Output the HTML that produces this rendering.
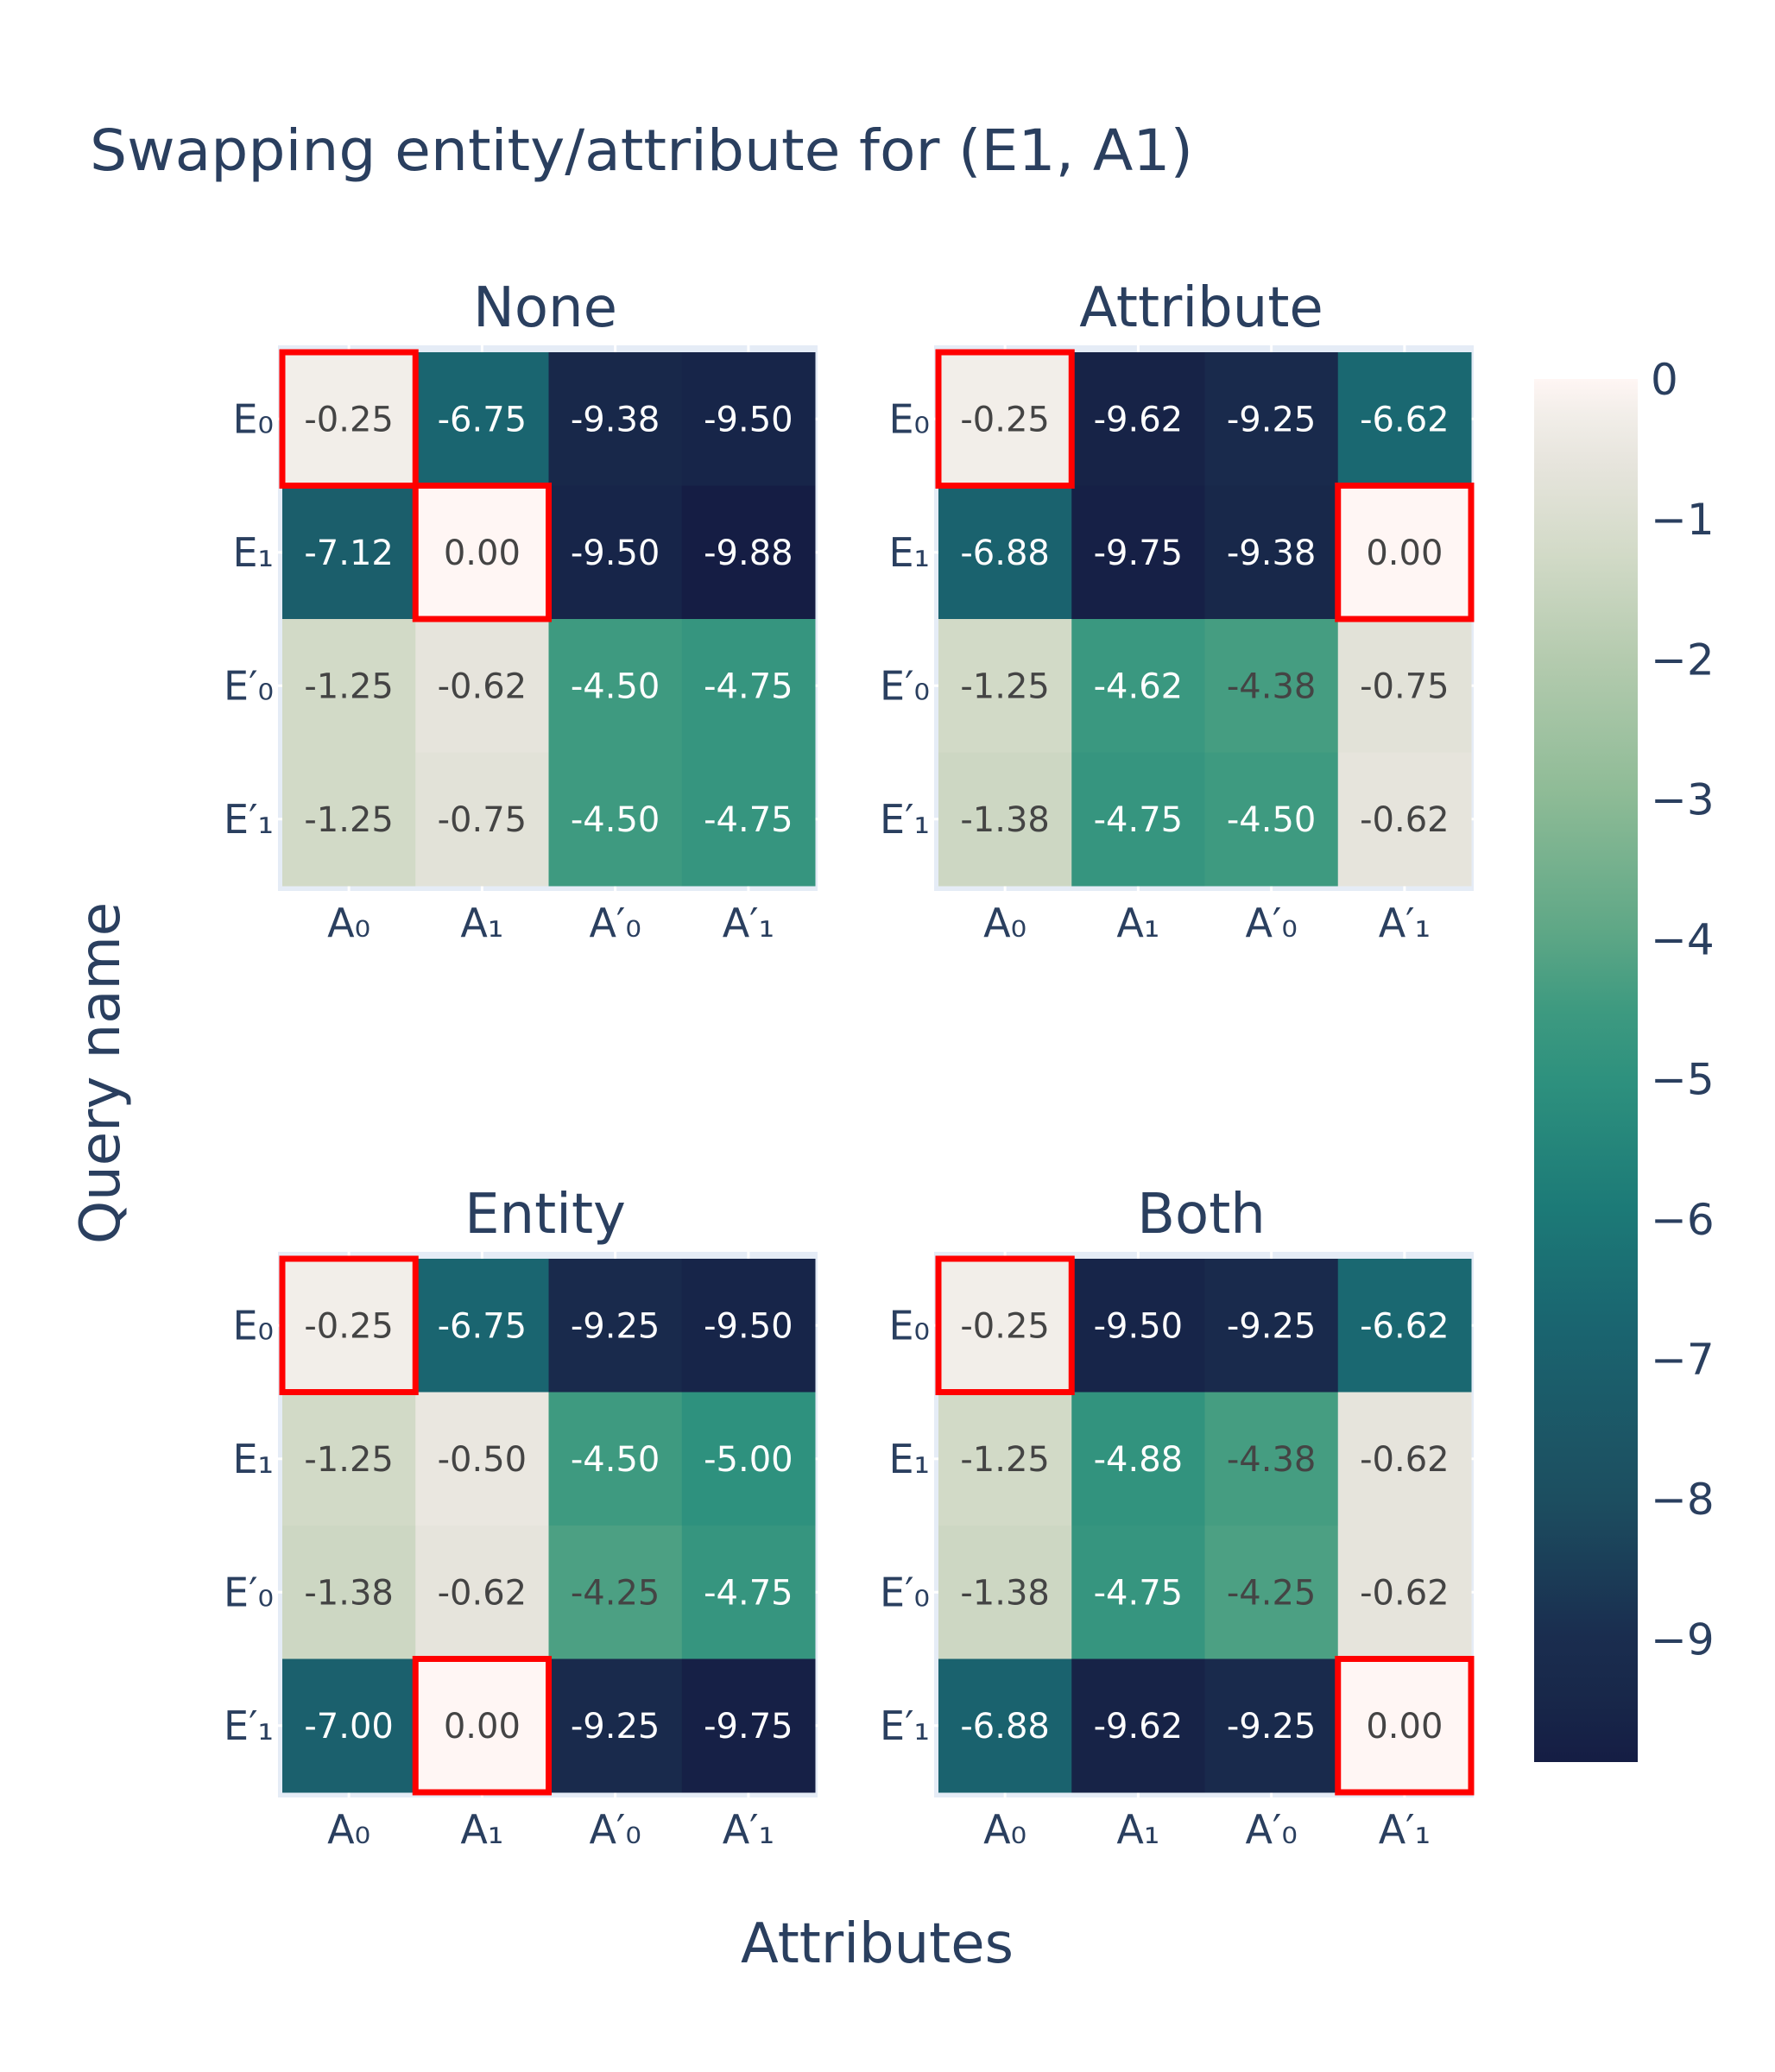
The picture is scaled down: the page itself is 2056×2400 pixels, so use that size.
<!DOCTYPE html>
<html><head><meta charset="utf-8"><style>
html,body{margin:0;padding:0;background:#fff;}
svg{display:block;font-family:"DejaVu Sans","Liberation Sans",sans-serif;}
</style></head><body>
<svg id="chart" width="2056" height="2400" viewBox="0 0 2056 2400" xmlns="http://www.w3.org/2000/svg">
<defs>
<linearGradient id="cbgrad" x1="0" y1="0" x2="0" y2="1"></linearGradient>
</defs>
<text x="104" y="197" font-size="66" fill="#2a3f5f" textLength="1278" lengthAdjust="spacingAndGlyphs">Swapping entity/attribute for (E1, A1)</text>
<text x="0" y="0" font-size="64" fill="#2a3f5f" text-anchor="middle" transform="translate(138,1243) rotate(-90)">Query name</text>
<text x="1016" y="2273" font-size="64" fill="#2a3f5f" text-anchor="middle">Attributes</text>
<g id="panels"></g>
<g id="colorbar"></g>
</svg>
<script>
const rowLabels = ["E\u2080","E\u2081","E\u2032\u2080","E\u2032\u2081"];
const colLabels = ["A\u2080","A\u2081","A\u2032\u2080","A\u2032\u2081"];
const panelTitles = ["None","Attribute","Entity","Both"];
const valsNone = [[-0.25,-6.75,-9.38,-9.50],[-7.12,0.00,-9.50,-9.88],[-1.25,-0.62,-4.50,-4.75],[-1.25,-0.75,-4.50,-4.75]];
const valsAttribute = [[-0.25,-9.62,-9.25,-6.62],[-6.88,-9.75,-9.38,0.00],[-1.25,-4.62,-4.38,-0.75],[-1.38,-4.75,-4.50,-0.62]];
const valsEntity = [[-0.25,-6.75,-9.25,-9.50],[-1.25,-0.50,-4.50,-5.00],[-1.38,-0.62,-4.25,-4.75],[-7.00,0.00,-9.25,-9.75]];
const valsBoth = [[-0.25,-9.50,-9.25,-6.62],[-1.25,-4.88,-4.38,-0.62],[-1.38,-4.75,-4.25,-0.62],[-6.88,-9.62,-9.25,0.00]];
const highlightsNone = [[0,0],[1,1]];
const highlightsAttribute = [[0,0],[1,3]];
const highlightsEntity = [[0,0],[3,1]];
const highlightsBoth = [[0,0],[3,3]];
const zMin = -9.88, zMax = 0;
const cbTicks = [0,-1,-2,-3,-4,-5,-6,-7,-8,-9];

const stops = [[0,"#fff6f4"],[0.025,"#f2eee9"],[0.063,"#e6e4dc"],[0.127,"#d2dac7"],[0.2,"#b5cbaf"],[0.3,"#8ebb96"],[0.4,"#5ea786"],[0.455,"#3e9a80"],[0.506,"#2e917e"],[0.6,"#1c7a77"],[0.683,"#1a6570"],[0.72,"#1b5e6b"],[0.81,"#1c4e60"],[0.91,"#1a2d4f"],[0.95,"#18284a"],[1,"#151d44"]];
function hex(c){return [1,3,5].map(i=>parseInt(c.substr(i,2),16));}
function colorFor(v){
  let t=(zMax-v)/(zMax-zMin); t=Math.max(0,Math.min(1,t));
  for(let i=1;i<stops.length;i++){
    if(t<=stops[i][0]){
      const a=stops[i-1],b=stops[i];const f=(t-a[0])/(b[0]-a[0]);
      const ca=hex(a[1]),cb=hex(b[1]);
      return "rgb("+ca.map((x,k)=>Math.round(x+(cb[k]-x)*f)).join(",")+")";
    }
  }
  return stops[stops.length-1][1];
}
const NS="http://www.w3.org/2000/svg";
function mk(tag,attrs,parent){const e=document.createElementNS(NS,tag);for(const k in attrs)e.setAttribute(k,attrs[k]);parent.appendChild(e);return e;}

const panelsG=document.getElementById("panels");
const panelData=[valsNone,valsAttribute,valsEntity,valsBoth];
const panelHL=[highlightsNone,highlightsAttribute,highlightsEntity,highlightsBoth];
const origins=[[327,408],[1087,408],[327,1458],[1087,1458]];
const W=617,H=618;
panelData.forEach((vals,p)=>{
  const [x0,y0]=origins[p];
  const cw=W/colLabels.length, ch=H/rowLabels.length;
  const xS=j=>x0+j*cw, yS=i=>y0+i*ch;
  const g=mk("g",{},panelsG);
  
  
  const bg=mk("rect",{x:x0-5,y:y0-8,width:W+8,height:H+14,fill:"#e5ecf6"},g);
  
  
  for(let j=0;j<colLabels.length;j++){mk("line",{x1:xS(j)+cw/2,x2:xS(j)+cw/2,y1:y0-8,y2:y0+H+6,stroke:"#fff","stroke-width":3},g);}
  for(let i=0;i<rowLabels.length;i++){mk("line",{x1:x0-5,x2:x0+W+3,y1:yS(i)+ch/2,y2:yS(i)+ch/2,stroke:"#fff","stroke-width":3},g);}
  const t=mk("text",{x:x0+W/2-4,y:y0-30,"font-size":64,fill:"#2a3f5f","text-anchor":"middle"},g);
  t.textContent=panelTitles[p];
  
  
  vals.forEach((row,i)=>row.forEach((v,j)=>{
    const r=mk("rect",{x:xS(j),y:yS(i),width:cw+0.5,height:ch+0.5,fill:colorFor(v)},g);
    
    
    const tx=mk("text",{x:xS(j)+cw/2,y:yS(i)+ch/2+14,"font-size":40,"text-anchor":"middle",fill:v>-4.4?"#444":"#fff"},g);
    tx.textContent=v.toFixed(2);
    
    
  }));
  rowLabels.forEach((l,i)=>{
    const tx=mk("text",{x:x0-10,y:yS(i)+ch/2+16,"font-size":46,"text-anchor":"end",fill:"#2a3f5f"},g);
    tx.textContent=l;
    
    
  });
  colLabels.forEach((l,j)=>{
    const tx=mk("text",{x:xS(j)+cw/2,y:y0+H+59,"font-size":46,"text-anchor":"middle",fill:"#2a3f5f"},g);
    tx.textContent=l;
    
    
  });
  panelHL[p].forEach(([i,j])=>{
    const r=mk("rect",{x:xS(j),y:yS(i),width:cw,height:ch,fill:"none",stroke:"#ff0000","stroke-width":7},g);
    
    
  });
});

const grad=document.getElementById("cbgrad");
stops.forEach(s=>mk("stop",{offset:s[0],"stop-color":s[1]},grad));
const cb=document.getElementById("colorbar");
const cbX=1777,cbTop=439,cbBot=2041,cbW=120;
const cbY=v=>cbTop+(zMax-v)/(zMax-zMin)*(cbBot-cbTop);
const cbr=mk("rect",{x:cbX,y:cbY(zMax),width:cbW,height:cbY(zMin)-cbY(zMax),fill:"url(#cbgrad)"},cb);


cbTicks.forEach(v=>{
  const tx=mk("text",{x:1912,y:cbY(v)+18,"font-size":50,fill:"#2a3f5f"},cb);
  tx.textContent=v===0?"0":"\u2212"+Math.abs(v);
  
  
});
</script>
</body></html>
